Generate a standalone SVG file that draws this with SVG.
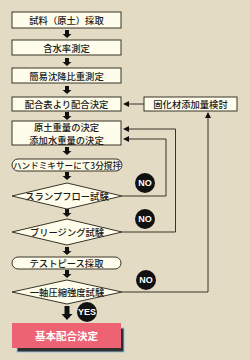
<svg xmlns="http://www.w3.org/2000/svg" width="250" height="360" viewBox="0 0 250 360">
<style>
.bg{fill:#E4DBC4}
.box{fill:#FEFCEA;stroke:#3a3428;stroke-width:1}
.t{font-family:"Noto Sans CJK JP","Noto Sans",sans-serif;font-size:9.3px;font-weight:500;fill:#1a1a1a;text-anchor:middle;dominant-baseline:central}
.ln{fill:none;stroke:#3a3428;stroke-width:1}
.ar{fill:#111}
.badge{fill:#111}
.bt{font-family:"Liberation Sans",Arial,sans-serif;font-weight:bold;font-size:9px;fill:#fff;text-anchor:middle;dominant-baseline:central}
</style>
<defs>
<path id="dn" d="M-2,-4 H2 V0 H4.5 L0,4 L-4.5,0 H-2 Z"/>
<path id="lf" d="M0,0 L6,-3 L6,3 Z"/>
</defs>
<rect class="bg" width="250" height="360"/>

<g id="connectors">
<use href="#dn" class="ar" x="67" y="34"/>
<use href="#dn" class="ar" x="67" y="62"/>
<use href="#dn" class="ar" x="67" y="90"/>
<use href="#dn" class="ar" x="67" y="116"/>
<use href="#dn" class="ar" x="67" y="151"/>
<use href="#dn" class="ar" x="67" y="176"/>
<use href="#dn" class="ar" x="67" y="213"/>
<use href="#dn" class="ar" x="67" y="251"/>
<use href="#dn" class="ar" x="67" y="274"/>
<path class="ar" d="M64.5,306 H69.5 V314 H72.5 L67,320 L61.5,314 H64.5 Z"/>
<path class="ln" d="M144,104 H128"/>
<use href="#lf" class="ar" x="123" y="104"/>
<path class="ln" d="M122,196 H166 V139 H128"/>
<use href="#lf" class="ar" x="123" y="139"/>
<path class="ln" d="M122,232 H175.5 V129 H128"/>
<use href="#lf" class="ar" x="123" y="129"/>
<path class="ln" d="M122,292 H208 V117"/>
<path class="ar" d="M208,112 L211,118 L205,118 Z"/>
</g>

<g id="n1"><rect class="box" x="12" y="12" width="109" height="16"/><text class="t" x="66.5" y="20">試料（原土）採取</text></g>
<g id="n2"><rect class="box" x="12" y="40" width="109" height="15"/><text class="t" x="66.5" y="47.5">含水率測定</text></g>
<g id="n3"><rect class="box" x="12" y="68" width="109" height="15"/><text class="t" x="66.5" y="75.5">簡易沈降比重測定</text></g>
<g id="n4"><rect class="box" x="12" y="97" width="109" height="14"/><text class="t" x="66.5" y="104">配合表より配合決定</text></g>
<g id="n5"><rect class="box" x="144" y="97" width="93" height="14"/><text class="t" x="190.5" y="104">固化材添加量検討</text></g>
<g id="n6"><rect class="box" x="12" y="121" width="109" height="24"/><text class="t" x="66.5" y="126.5">原土重量の決定</text><text class="t" x="66.5" y="140">添加水重量の決定</text></g>
<g id="n7"><rect class="box" x="12" y="159" width="110" height="12" rx="6"/><text class="t" x="67" y="165" style="font-size:8.6px">ハンドミキサーにて3分撹拌</text></g>
<g id="n8"><path class="box" d="M12,196 L67,183 L122,196 L67,209 Z"/><text class="t" x="67" y="196">スランプフロー試験</text></g>
<g id="n9"><path class="box" d="M12,232 L67,219 L122,232 L67,245 Z"/><text class="t" x="67" y="232">ブリージング試験</text></g>
<g id="n10"><rect class="box" x="12" y="257" width="109" height="12" rx="6"/><text class="t" x="66.5" y="263">テストピース採取</text></g>
<g id="n11"><path class="box" d="M12,292 L67,280 L122,292 L67,304 Z"/><text class="t" x="67" y="292">一軸圧縮強度試験</text></g>
<g id="n12">
<rect x="17" y="328" width="107" height="24" fill="#2e3030" stroke="#9cc0d8" stroke-width="1"/>
<rect x="12" y="323" width="109" height="25" fill="#EE6373"/>
<text class="t" x="66.5" y="335.5" style="fill:#fff;font-weight:bold;font-size:10.5px">基本配合決定</text>
</g>

<g id="b1"><circle class="badge" cx="145" cy="183" r="10"/><text class="bt" x="145" y="183">NO</text></g>
<g id="b2"><circle class="badge" cx="145" cy="219" r="10"/><text class="bt" x="145" y="219">NO</text></g>
<g id="b3"><circle class="badge" cx="146" cy="280" r="10"/><text class="bt" x="146" y="280">NO</text></g>
<g id="b4"><circle class="badge" cx="87" cy="312" r="10"/><text class="bt" x="87" y="312">YES</text></g>
</svg>
